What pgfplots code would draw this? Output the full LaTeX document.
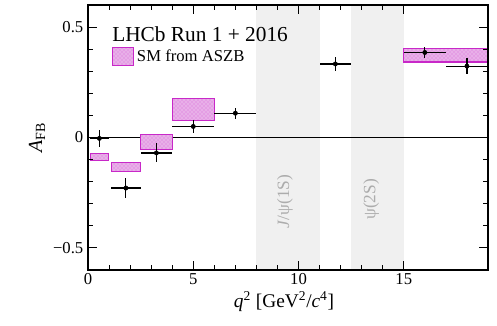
\documentclass[border=0pt]{standalone}
\usepackage{fontspec}
\setmainfont{Liberation Serif}
\usepackage{pgfplots}
\pgfplotsset{compat=1.18}
\usetikzlibrary{patterns,calc}
\definecolor{smfill}{RGB}{232,175,232}
\definecolor{smline}{RGB}{200,40,200}
\pgfplotstableread{
x y ex ey
0.54 -0.004 0.44 0.040
1.80 -0.229 0.70 0.046
3.25 -0.070 0.75 0.043
5.00 0.050 1.00 0.030
7.00 0.110 1.00 0.024
11.75 0.333 0.75 0.030
16.00 0.385 1.00 0.024
18.00 0.323 1.00 0.037
}\datatable
\pgfplotsset{smbox/.style={forget plot, fill=smfill, draw=smline, line width=0.8pt, postaction={pattern=crosshatch dots, pattern color=smline!70}}}
\begin{document}
\begin{tikzpicture}
\begin{axis}[
  scale only axis, width=300pt, height=198.75pt,
  xmin=0, xmax=19, ymin=-0.6, ymax=0.6,
  xtick={0,5,10,15}, xticklabels={0,5,10,15},
  ytick={-0.5,0,0.5}, yticklabels={−0.5,0,0.5},
  minor x tick num=4, minor y tick num=4,
  tick align=inside, xtick pos=both, ytick pos=both,
  xticklabel pos=lower, yticklabel pos=left,
  major tick length=7pt, minor tick length=3.5pt,
  axis line style={line width=0.9pt},
  every tick/.style={black, line width=0.8pt},
  ticklabel style={font=\fontsize{12.5}{14}\selectfont},
  xticklabel style={yshift=1pt},
  xlabel={\textit{q}\textsuperscript{2} [GeV\textsuperscript{2}/\textit{c}\textsuperscript{4}]},
  xlabel style={at={(axis description cs:0.49,-0.118)}, anchor=center, font=\fontsize{14.5}{16}\selectfont, inner sep=1pt},
  ylabel={\textit{A}\textsubscript{FB}},
  ylabel style={at={(axis description cs:-0.1275,0.5)}, anchor=center, font=\fontsize{15}{17}\selectfont},
  axis on top,
  legend style={at={(axis description cs:0.06,0.804)}, anchor=west, draw=none, fill=none, inner sep=0pt, font=\fontsize{12.5}{14}\selectfont},
  legend cell align=left,
]
\addlegendimage{legend image code/.code={\draw[fill=smfill, draw=smline, line width=0.8pt, postaction={pattern=crosshatch dots, pattern color=smline!70}] (0pt,-6.75pt) rectangle (15.75pt,6.75pt);}}
\addlegendentry{SM from ASZB}
% shaded charmonium regions
\addplot[forget plot, fill=gray!12, draw=none] coordinates {(8,-0.6) (11,-0.6) (11,0.6) (8,0.6)} --cycle;
\addplot[forget plot, fill=gray!12, draw=none] coordinates {(12.5,-0.6) (15,-0.6) (15,0.6) (12.5,0.6)} --cycle;
% zero line
\addplot[forget plot, black, line width=0.8pt] coordinates {(0,0) (19,0)};
% SM predictions
\addplot[smbox] coordinates {(0.1,-0.104) (0.98,-0.104) (0.98,-0.074) (0.1,-0.074)} --cycle;
\addplot[smbox] coordinates {(1.1,-0.154) (2.5,-0.154) (2.5,-0.113) (1.1,-0.113)} --cycle;
\addplot[smbox] coordinates {(2.5,-0.054) (4.0,-0.054) (4.0,0.012) (2.5,0.012)} --cycle;
\addplot[smbox] coordinates {(4.0,0.078) (6.0,0.078) (6.0,0.175) (4.0,0.175)} --cycle;
\addplot[smbox] coordinates {(15.0,0.342) (19.0,0.342) (19.0,0.405) (15.0,0.405)} --cycle;
% data
\addplot[forget plot, black, only marks, mark=*, mark size=1.6pt,
  error bars/.cd, x dir=both, x explicit, y dir=both, y explicit, error mark=none,
  error bar style={line width=0.9pt, black}]
  table[x=x, y=y, x error=ex, y error=ey] {\datatable};
\node[rotate=90, text=gray!65, font=\fontsize{13}{15}\selectfont] at (axis cs:9.35,-0.29) {\textit{J}/ψ(1S)};
\node[rotate=90, text=gray!65, font=\fontsize{13}{15}\selectfont] at (axis cs:13.45,-0.28) {ψ(2S)};
\node[anchor=west, font=\fontsize{16}{18}\selectfont, inner sep=0pt] at (axis cs:1.14,0.47) {LHCb Run 1 + 2016};
\end{axis}
\pgfresetboundingbox
\path ($(current axis.south west)+(-66pt,-42pt)$) rectangle ($(current axis.north east)+(6.75pt,3.75pt)$);
\end{tikzpicture}
\end{document}
